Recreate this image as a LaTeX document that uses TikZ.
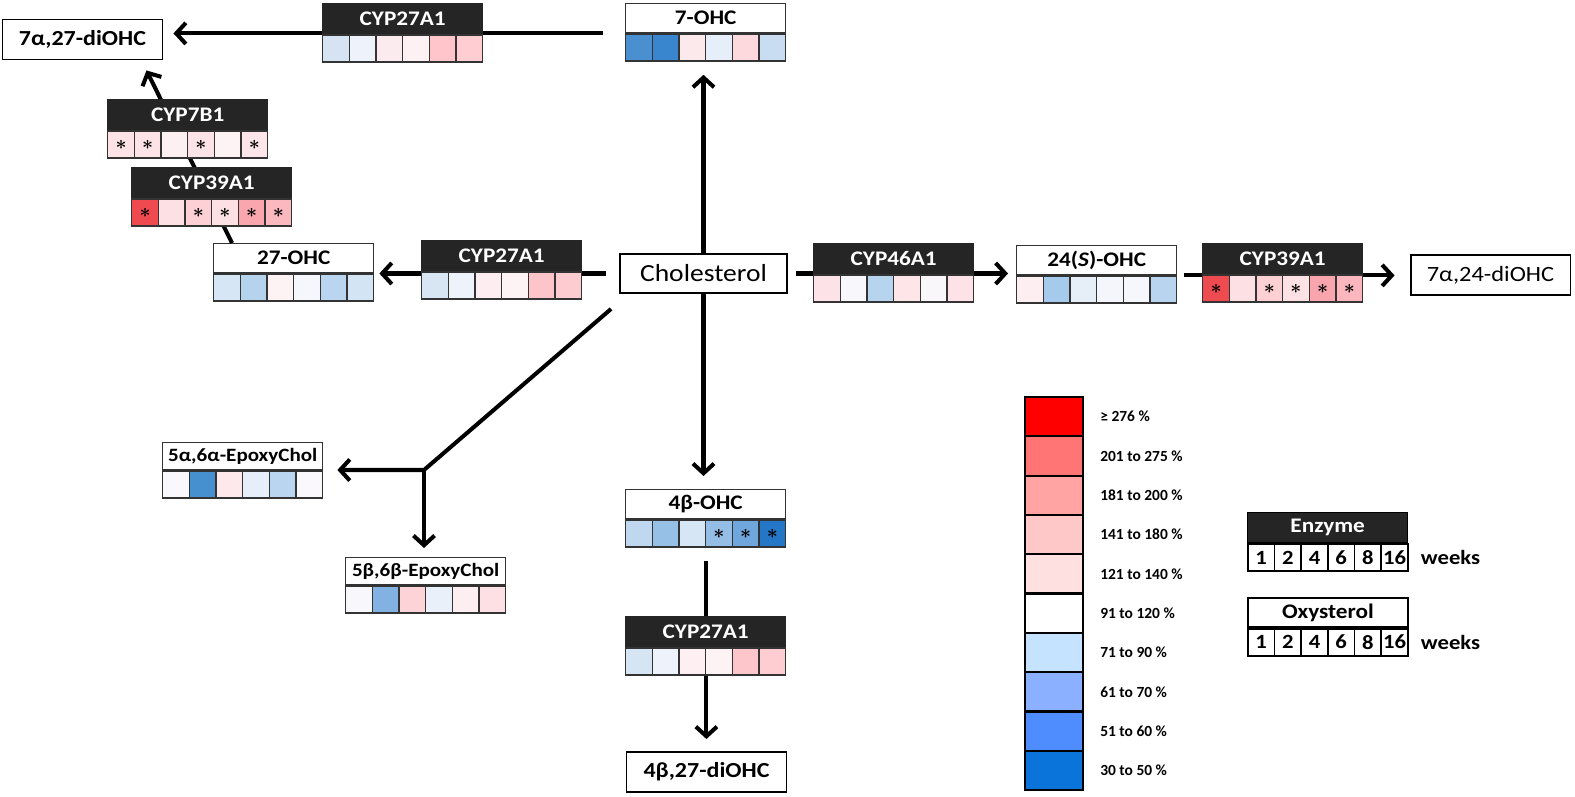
\documentclass[tikz,border=0pt]{standalone}
\usepackage{amsmath}
\usepackage{fontspec}
\setmainfont{Carlito}[FakeStretch=1.12]
\newfontfamily\scalefont{Carlito}
\usetikzlibrary{arrows.meta,calc}

\definecolor{hdr}{HTML}{252525}
\definecolor{edge}{HTML}{333333}

\tikzset{
  enzhead/.style={anchor=north west, draw=hdr, fill=hdr, text=white, inner sep=0pt,
    minimum width=3.2cm, minimum height=0.6cm, line width=0.8pt,
    font=\bfseries\fontsize{11.8}{14}\selectfont},
  oxyhead/.style={anchor=north west, draw=edge, fill=white, inner sep=0pt,
    minimum width=3.2cm, minimum height=0.58cm, line width=0.8pt,
    font=\bfseries\fontsize{11.8}{14}\selectfont},
  cellbox/.style={anchor=north west, draw=edge, inner sep=0pt, line width=0.8pt,
    minimum width=0.5333cm, minimum height=0.54cm, font=\fontsize{11}{12}\selectfont},
  prod/.style={draw=black, line width=1.1pt, fill=white, inner sep=0pt,
    minimum width=3.2cm, minimum height=0.8cm, font=\bfseries\fontsize{12.2}{14}\selectfont},
  flow/.style={line width=2.3pt, -{Straight Barb[length=5.5pt,width=12pt]}},
  scalecell/.style={anchor=north west, draw=black, line width=1.2pt, inner sep=0pt,
    minimum width=1.16cm, minimum height=0.786cm},
  scalelabel/.style={anchor=west, font=\scalefont\bfseries\fontsize{8.8}{10}\selectfont},
  keycell/.style={cellbox, draw=black, line width=1pt, fill=white,
    font=\bfseries\fontsize{11.5}{12}\selectfont},
}

% header box with a row of six coloured cells (1 = asterisk)
\newcommand{\heatblock}[6]{%
  \node[#1] (#2) at (#3,#4) {#5};
  \foreach \c/\s [count=\i] in {#6}{
    \definecolor{cellc}{HTML}{\c}
    \node[cellbox, fill=cellc] (#2-\i) at ([xshift={(\i-1)*0.5333cm}]#2.south west) {\ifnum\s=1 $\boldsymbol{\ast}$\fi};
  }
}

\begin{document}
\begin{tikzpicture}[x=0.02cm, y=-0.02cm]
\useasboundingbox (0,0) rectangle (1575,797);

% end products
\node[prod] (diohc727) at (82.5,39.5) {7α,27-diOHC};
\node[prod, minimum width=3.34cm, minimum height=0.78cm, font=\fontsize{14}{16}\selectfont] (chol) at (703.5,273.5) {Cholesterol};
\node[prod, font=\fontsize{12.4}{14}\selectfont] (diohc724) at (1490.5,275) {7α,24-diOHC};
\node[prod] (diohc4b27) at (706.5,772) {4β,27-diOHC};

% oxysterols
\heatblock{oxyhead}{ohc7}{625}{3}{7-OHC}{4A8FD0/0,3A86CE/0,FCE9EC/0,E6EEF9/0,FDD8DD/0,C8DDF2/0}
\heatblock{oxyhead}{ohc27}{213}{243}{27-OHC}{D6E6F5/0,B6D3EE/0,FDF2F4/0,F5F7FC/0,B9D5EF/0,D3E4F4/0}
\heatblock{oxyhead}{ohc24}{1016}{245}{24(\textit{S})-OHC}{FDEFF1/0,A6CAEB/0,E6EEF8/0,F5F6FB/0,F6F7FC/0,B8D4EE/0}
\heatblock{oxyhead}{ohc4b}{625}{489}{4β-OHC}{BFD8F0/0,97C0E6/0,D7E6F5/0,95BEE6/1,6FA7DC/1,2477C7/1}
\heatblock{oxyhead, minimum height=0.54cm, font=\bfseries\fontsize{10.7}{12}\selectfont}{epa}{162}{442}{5α,6α-EpoxyChol}{F9F8FC/0,4790D0/0,FDE8EC/0,E5EEF9/0,BAD5EF/0,FAF8FC/0}
\heatblock{oxyhead, minimum height=0.54cm, font=\bfseries\fontsize{10.7}{12}\selectfont}{epb}{345}{557}{5β,6β-EpoxyChol}{F8F8FC/0,83B2E2/0,FDD3D8/0,E9F0F9/0,FDEFF1/0,FDE0E4/0}

% reactions
\draw[flow, shorten >=0.26cm] (chol.north) -- (chol.north |- ohc7-3.south);
\draw[flow, shorten >=0.26cm] (chol.south) -- (chol.south |- ohc4b.north);
\draw[flow, shorten <=0.26cm, shorten >=0.24cm] (ohc4b-3.south east) -- (ohc4b-3.south east |- diohc4b27.north);
\draw[flow, shorten <=0.26cm, shorten >=0.1cm] (chol.west) -- (chol.west -| ohc27-6.east);
\draw[flow, shorten >=0.2cm] ([xshift=-0.44cm]ohc7.south west) -- (ohc7.south west -| diohc727.east);
\draw[flow] ([xshift=0.38cm]ohc27.north west) -- ([xshift=-0.34cm,yshift=-0.2cm]diohc727.south east);
\draw[flow, shorten <=0.16cm, shorten >=0.16cm] (chol.east) -- (chol.east -| ohc24.west);
\draw[flow, shorten <=0.14cm, shorten >=0.3cm] (ohc24.south east) -- (ohc24.south east -| diohc724.west);
\coordinate (split) at (424,470);
\draw[flow, shorten >=0.28cm] ([shift={(-0.16cm,-0.3cm)}]chol.south west) -- (split) -- (split -| epa.east);
\draw[flow, shorten >=0.18cm] (split) -- (split |- epb.north);

% enzymes
\heatblock{enzhead}{cyp27a}{322}{3}{CYP27A1}{D5E3F3/0,EEF2FA/0,FCEBEE/0,FDF1F4/0,FFC5CA/0,FFCDD2/0}
\heatblock{enzhead}{cyp7b1}{107}{99}{CYP7B1}{FDE3E6/1,FDE3E6/1,FDF0F2/0,FCE3E7/1,FDF2F4/0,FCE6E9/1}
\heatblock{enzhead}{cyp39l}{131}{167}{CYP39A1}{EF4A50/1,FDE0E3/0,FDD0D5/1,FDE0E4/1,F9A6AE/1,FBB9BF/1}
\heatblock{enzhead}{cyp27b}{421}{240}{CYP27A1}{D8E6F4/0,EEF3FB/0,FDEDF0/0,FDF3F5/0,FDC4CA/0,FDCCD1/0}
\heatblock{enzhead}{cyp46}{813}{243}{CYP46A1}{FDE3E7/0,F8F7FC/0,B7D4EF/0,FDE5E8/0,FAF7FB/0,FDE3E7/0}
\heatblock{enzhead}{cyp39r}{1202}{243}{CYP39A1}{EE4B50/1,FDE0E3/0,FDD0D4/1,FDE1E4/1,F9A5AD/1,FBB7BD/1}
\heatblock{enzhead}{cyp27c}{625}{616}{CYP27A1}{D6E5F4/0,EEF3FB/0,FDEFF2/0,FDF3F5/0,FDC6CB/0,FDCDD2/0}

% colour scale
\foreach \c/\t [count=\i] in {FF0000/{≥ 276 \%},FF7575/{201 to 275 \%},FFA3A3/{181 to 200 \%},
    FFC8C8/{141 to 180 \%},FFE0E0/{121 to 140 \%},FFFFFF/{91 to 120 \%},C5E3FF/{71 to 90 \%},
    8AB0FF/{61 to 70 \%},4F8DFF/{51 to 60 \%},0A74DA/{30 to 50 \%}}{
  \definecolor{cellc}{HTML}{\c}
  \node[scalecell, fill=cellc] (scale-\i) at (1024,{396+(\i-1)*39.3}) {};
  \node[scalelabel] (scalelbl-\i) at ([xshift=0.2cm]scale-\i.east) {\t};
}

% key
\node[enzhead, draw=black] (enzkey) at (1247,512) {Enzyme};
\foreach \w [count=\i] in {1,2,4,6,8,16}
  \node[keycell] (enzkey-\i) at ([xshift={(\i-1)*0.5333cm}]enzkey.south west) {\w};
\node[anchor=west, font=\bfseries\fontsize{11.5}{12}\selectfont] (enzweeks) at ([xshift=0.12cm]enzkey-6.east) {weeks};
\node[oxyhead, draw=black, line width=1pt] (oxykey) at (1247,597) {Oxysterol};
\foreach \w [count=\i] in {1,2,4,6,8,16}
  \node[keycell] (oxykey-\i) at ([xshift={(\i-1)*0.5333cm}]oxykey.south west) {\w};
\node[anchor=west, font=\bfseries\fontsize{11.5}{12}\selectfont] (oxyweeks) at ([xshift=0.12cm]oxykey-6.east) {weeks};
\end{tikzpicture}
\end{document}
